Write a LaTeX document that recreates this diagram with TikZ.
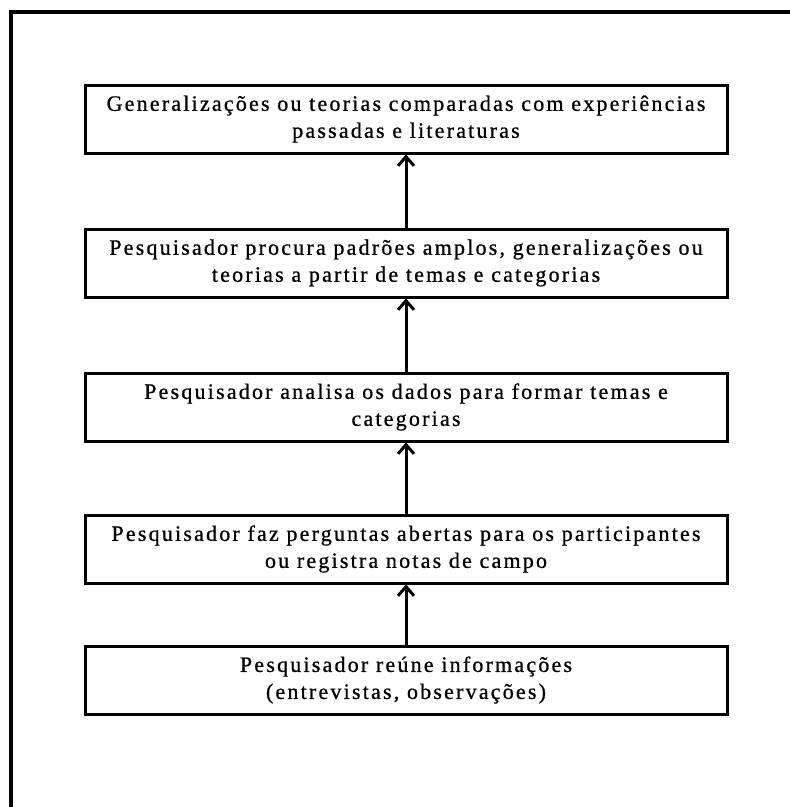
\documentclass[tikz,border=0pt]{standalone}
\usepackage{fontspec}
\setmainfont{Liberation Serif}[LetterSpace=10, FakeBold=0.8]
\usetikzlibrary{arrows.meta}

\begin{document}
\begin{tikzpicture}[
  x=1pt,
  y=-1pt,
  frame/.style={line width=4pt, line cap=rect},
  stepbox/.style={draw=black, line width=3pt, minimum width=642pt, minimum height=68pt, inner sep=2pt, align=center, font=\fontsize{22}{27}\selectfont},
  upflow/.style={line width=3pt, -{Straight Barb[length=9pt, width=16pt, line width=3pt]}}
]
\useasboundingbox (0,0) rectangle (790,807);
\clip (0,0) rectangle (790,807);
\draw[frame] (11,830) -- (11,12) -- (820,12);

\node[stepbox] (gen) at (406,119) {Generalizações ou teorias comparadas com experiências\\passadas e literaturas};
\node[stepbox] (padroes) at (406,263) {Pesquisador procura padrões amplos, generalizações ou\\teorias a partir de temas e categorias};
\node[stepbox] (analisa) at (406,407) {Pesquisador analisa os dados para formar temas e\\categorias};
\node[stepbox] (pergunta) at (406,549) {Pesquisador faz perguntas abertas para os participantes\\ou registra notas de campo};
\node[stepbox] (reune) at (406,680) {Pesquisador reúne informações\\(entrevistas, observações)};

\draw[upflow] (reune) -- (pergunta);
\draw[upflow] (pergunta) -- (analisa);
\draw[upflow] (analisa) -- (padroes);
\draw[upflow] (padroes) -- (gen);
\end{tikzpicture}
\end{document}
